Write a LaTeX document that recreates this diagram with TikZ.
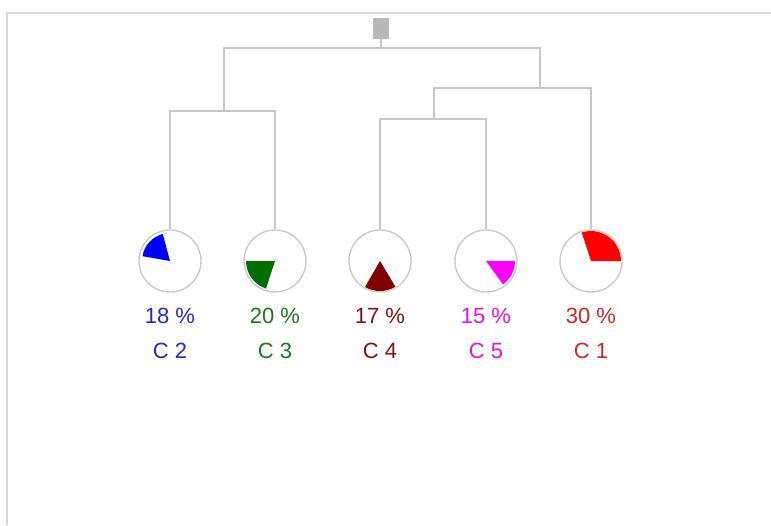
\documentclass[tikz,border=0pt]{standalone}
\usepackage{fontspec}
\setmainfont{Liberation Sans}
\definecolor{linegray}{RGB}{200,200,200}
\definecolor{framegray}{RGB}{215,215,215}
\definecolor{rootgray}{RGB}{185,185,185}
\definecolor{cblue}{RGB}{0,0,255}
\definecolor{tblue}{RGB}{40,40,200}
\definecolor{cgreen}{RGB}{0,110,0}
\definecolor{tgreen}{RGB}{30,120,30}
\definecolor{cmaroon}{RGB}{128,0,0}
\definecolor{tmaroon}{RGB}{130,20,20}
\definecolor{cmag}{RGB}{255,0,255}
\definecolor{tmag}{RGB}{225,20,225}
\definecolor{cred}{RGB}{255,0,0}
\definecolor{tred}{RGB}{205,40,40}
\begin{document}
\begin{tikzpicture}[x=0.75pt,y=-0.75pt,
  leaf/.style={circle,draw=linegray,line width=1pt,minimum size=46.5pt,inner sep=0pt},
  link/.style={linegray,line width=1.5pt},
  lbl/.style={font=\fontsize{16.5}{18}\selectfont,inner sep=0pt,anchor=center}]
\useasboundingbox (0,0) rectangle (771,525);
\fill[white] (0,0) rectangle (771,525);
\draw[framegray,line width=1.5pt] (7,525) -- (7,13) -- (771,13);
% pie slices (angles negated because the y axis points down)
\fill[cblue] (170,261) -- +(-105:28) arc[start angle=-105,end angle=-170,radius=28] -- cycle;
\fill[cgreen] (275,261) -- +(-180:29) arc[start angle=-180,end angle=-252,radius=29] -- cycle;
\fill[cmaroon] (380,261) -- +(-240:30) arc[start angle=-240,end angle=-301,radius=30] -- cycle;
\fill[cmag] (486,261) -- +(54:29) arc[start angle=54,end angle=0,radius=29] -- cycle;
\fill[cred] (591,261) -- +(0:30) arc[start angle=0,end angle=-108,radius=30] -- cycle;
% leaves
\node[leaf] (c2) at (170,261) {};
\node[leaf] (c3) at (275,261) {};
\node[leaf] (c4) at (380,261) {};
\node[leaf] (c5) at (486,261) {};
\node[leaf] (c1) at (591,261) {};
% labels
\node[lbl,text=tblue] (p2) at (170,316) {18 \%};
\node[lbl,text=tblue] (n2) at (170,351) {C 2};
\node[lbl,text=tgreen] (p3) at (275,316) {20 \%};
\node[lbl,text=tgreen] (n3) at (275,351) {C 3};
\node[lbl,text=tmaroon] (p4) at (380,316) {17 \%};
\node[lbl,text=tmaroon] (n4) at (380,351) {C 4};
\node[lbl,text=tmag] (p5) at (486,316) {15 \%};
\node[lbl,text=tmag] (n5) at (486,351) {C 5};
\node[lbl,text=tred] (p1) at (591,316) {30 \%};
\node[lbl,text=tred] (n1) at (591,351) {C 1};
% tree joints
\coordinate (j23) at (224,111);
\coordinate (j45) at (434,119);
\coordinate (jm) at (540,88);
\coordinate (root) at (381,48);
\node[fill=rootgray,minimum width=12.5pt,minimum height=15.5pt,inner sep=0pt] (top) at (381,28.5) {};
\draw[link] (c2.north) |- (j23) -| (c3.north);
\draw[link] (c4.north) |- (j45) -| (c5.north);
\draw[link] (j45) |- (jm) -| (c1.north);
\draw[link] (j23) |- (root) -| (jm);
\draw[link] (root) -- (top.south);
\end{tikzpicture}
\end{document}
